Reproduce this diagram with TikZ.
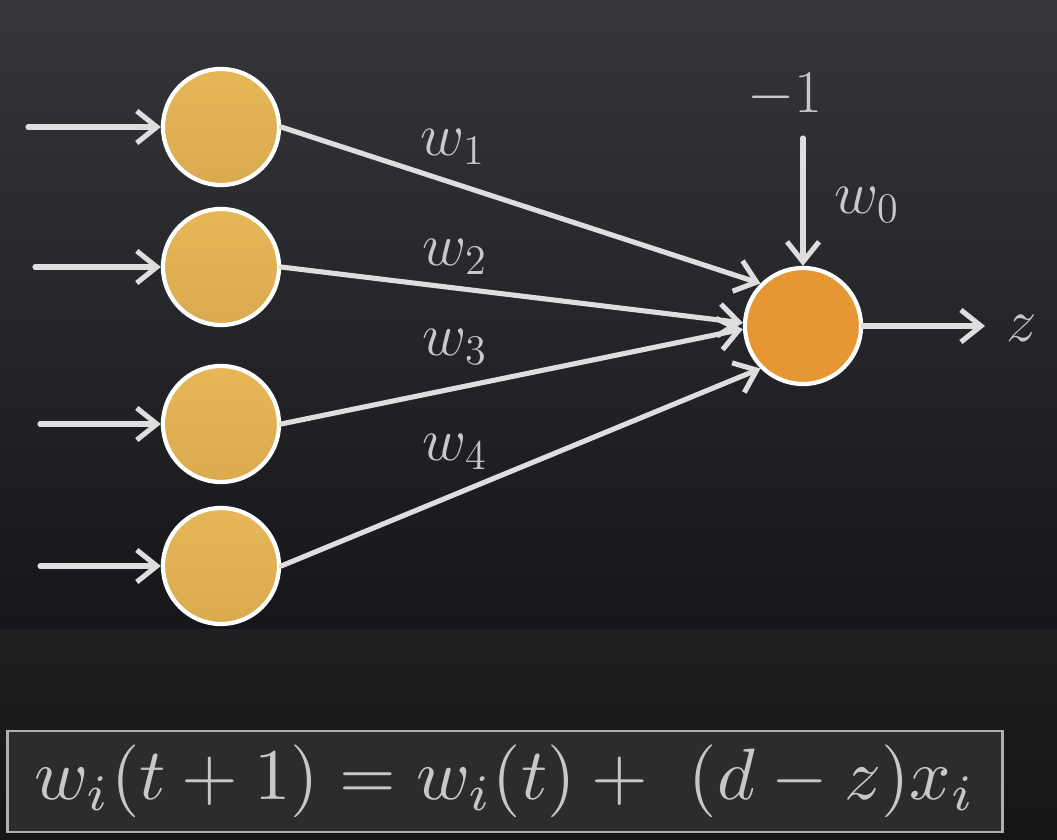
\documentclass[tikz,border=0pt]{standalone}
\usetikzlibrary{arrows.meta}
\definecolor{bgtop}{RGB}{52,54,58}
\definecolor{bgmid}{RGB}{22,22,26}
\definecolor{bgbtop}{RGB}{31,31,33}
\definecolor{bgbot}{RGB}{21,21,23}
\definecolor{intop}{RGB}{230,183,86}
\definecolor{inbot}{RGB}{218,170,80}
\definecolor{outfill}{RGB}{230,150,50}
\definecolor{linec}{RGB}{222,222,222}
\definecolor{textc}{RGB}{200,200,200}
\definecolor{boxfill}{RGB}{44,44,45}
\definecolor{boxline}{RGB}{175,175,175}
\tikzset{
  inn/.style={circle, draw=white, line width=1.2pt, minimum size=1.16cm, inner sep=0pt, top color=intop, bottom color=inbot},
  outn/.style={circle, draw=white, line width=1.2pt, minimum size=1.16cm, inner sep=0pt, fill=outfill},
  conn/.style={draw=linec, line width=1.45pt, line cap=round, -{Straight Barb[length=2mm, width=3.2mm, line width=1.45pt]}},
  lbl/.style={text=textc, font=\fontsize{17}{20}\selectfont, inner sep=0pt},
  formbox/.style={draw=boxline, line width=0.8pt, fill=boxfill, minimum width=9.94cm, minimum height=1.01cm, inner sep=0pt, text=textc}
}
\begin{document}
\begin{tikzpicture}[x=0.01cm, y=-0.01cm]
\useasboundingbox (0,0) rectangle (1057,840);
\shade[top color=bgtop, bottom color=bgmid] (0,0) rectangle (1057,630);
\shade[top color=bgbtop, bottom color=bgbot] (0,630) rectangle (1057,840);

% input neurons
\node[inn] (i1) at (221,127) {};
\node[inn] (i2) at (221,267) {};
\node[inn] (i3) at (221,424) {};
\node[inn] (i4) at (221,566) {};
% output neuron
\node[outn] (o) at (803,326) {};

% input arrows
\coordinate (s1) at (28,127);
\coordinate (s2) at (35,267);
\coordinate (s3) at (40,424);
\coordinate (s4) at (40,566);
\draw[conn] (s1) -- (i1);
\draw[conn] (s2) -- (i2);
\draw[conn] (s3) -- (i3);
\draw[conn] (s4) -- (i4);

% weighted connections
\draw[conn] (i1.east) -- (o.135);
\draw[conn] (i2.east) -- (o.177);
\draw[conn] (i3.east) -- (o.183);
\draw[conn] (i4.east) -- (o.225);

% labels
\node[lbl] (w1) at (453,147) {$w_1$};
\node[lbl] (w2) at (455,257) {$w_2$};
\node[lbl] (w3) at (455,347) {$w_3$};
\node[lbl] (w4) at (455,452) {$w_4$};
\node[lbl] (w0) at (867,205) {$w_0$};
\node[lbl] (m1) at (785,95) {$-1$};
\node[lbl] (zn) at (1022,328) {$z$};

% bias and output arrows
\coordinate (b) at (803,138);
\draw[conn] (b) -- (o);
\coordinate (zend) at (985,326);
\draw[conn] (o) -- (zend);

% formula
\node[formbox] (f) at (505,781.5) {\resizebox{9.4cm}{!}{$w_i(t+1) = w_i(t) +\ (d-z)x_i$}};
\end{tikzpicture}
\end{document}
